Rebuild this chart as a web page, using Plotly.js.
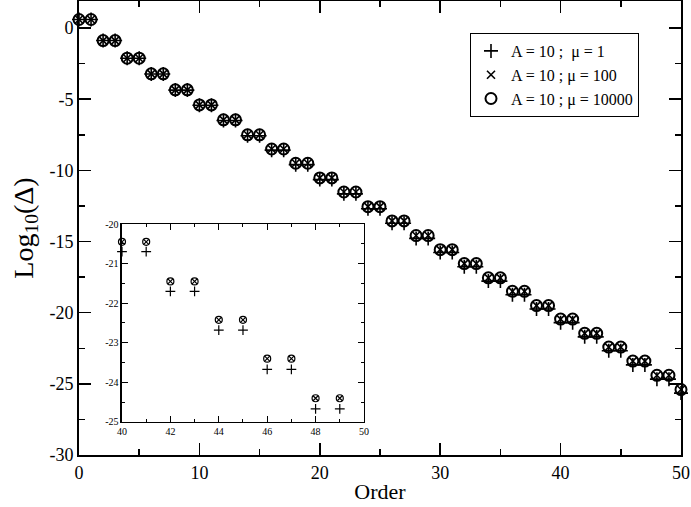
<!DOCTYPE html>
<html>
<head>
<meta charset="utf-8">
<script src="https://cdn.plot.ly/plotly-3.0.1.min.js"></script>
<style>html,body{margin:0;padding:0;background:#fff;}#chart{width:691px;height:507px;}</style>
</head>
<body>
<div id="chart"></div>
<script>
// Order
var order = [0,1,2,3,4,5,6,7,8,9,10,11,12,13,14,15,16,17,18,19,20,21,22,23,24,25,26,27,28,29,30,31,32,33,34,35,36,37,38,39,40,41,42,43,44,45,46,47,48,49,50];
// A = 10 ; mu = 1
var mu1 = [0.6,0.6,-0.88,-0.88,-2.12,-2.12,-3.23,-3.23,-4.36,-4.36,-5.43,-5.43,-6.5,-6.5,-7.57,-7.57,-8.58,-8.58,-9.6,-9.6,-10.65,-10.65,-11.65,-11.65,-12.7,-12.7,-13.72,-13.72,-14.78,-14.78,-15.77,-15.77,-16.77,-16.77,-17.78,-17.78,-18.74,-18.74,-19.74,-19.74,-20.7,-20.7,-21.7,-21.7,-22.68,-22.68,-23.67,-23.67,-24.67,-24.67,-25.65];
// A = 10 ; mu = 100
var mu100 = [0.6,0.6,-0.88,-0.88,-2.12,-2.12,-3.22,-3.22,-4.34,-4.34,-5.4,-5.4,-6.45,-6.45,-7.5,-7.5,-8.5,-8.5,-9.5,-9.5,-10.53,-10.53,-11.52,-11.52,-12.55,-12.55,-13.55,-13.55,-14.58,-14.58,-15.57,-15.57,-16.55,-16.55,-17.55,-17.55,-18.5,-18.5,-19.5,-19.5,-20.45,-20.45,-21.45,-21.45,-22.42,-22.42,-23.4,-23.4,-24.4,-24.4,-25.4];
// A = 10 ; mu = 10000
var mu10000 = [0.6,0.6,-0.88,-0.88,-2.12,-2.12,-3.22,-3.22,-4.34,-4.34,-5.4,-5.4,-6.45,-6.45,-7.5,-7.5,-8.5,-8.5,-9.5,-9.5,-10.53,-10.53,-11.52,-11.52,-12.55,-12.55,-13.55,-13.55,-14.58,-14.58,-15.57,-15.57,-16.55,-16.55,-17.55,-17.55,-18.5,-18.5,-19.5,-19.5,-20.45,-20.45,-21.45,-21.45,-22.42,-22.42,-23.4,-23.4,-24.4,-24.4,-25.4];
var names = ["A = 10 ;  \u03bc = 1", "A = 10 ; \u03bc = 100", "A = 10 ; \u03bc = 10000"];
// tick labels
var xTicks = [0, 10, 20, 30, 40, 50];
var xTickText = ["0", "10", "20", "30", "40", "50"];
var yTicks = [0, -5, -10, -15, -20, -25, -30];
var yTickText = ["0", "-5", "-10", "-15", "-20", "-25", "-30"];
var x2Ticks = [40, 42, 44, 46, 48, 50];
var x2TickText = ["40", "42", "44", "46", "48", "50"];
var y2Ticks = [-20, -21, -22, -23, -24, -25];
var y2TickText = ["-20", "-21", "-22", "-23", "-24", "-25"];
var insetStart = 40, insetEnd = 49;

var series = [mu1, mu100, mu10000];
var symbols = ['cross-thin-open', 'x-thin-open', 'circle-open'];
var mainSizes = [10, 8, 11];
var mainWidths = [1.6, 1.6, 2];
var insetSizes = [7, 5, 7];
var insetIdx = [];
for (var i = 0; i < order.length; i++) if (order[i] >= insetStart && order[i] <= insetEnd) insetIdx.push(i);

var traces = [];
series.forEach(function (s, k) {
  traces.push({
    x: order, y: s, name: names[k], mode: 'markers', type: 'scatter', cliponaxis: false,
    marker: {symbol: symbols[k], size: mainSizes[k], color: 'black', line: {color: 'black', width: mainWidths[k]}},
    xaxis: 'x', yaxis: 'y'
  });
});
series.forEach(function (s, k) {
  traces.push({
    x: insetIdx.map(function (i) { return order[i]; }),
    y: insetIdx.map(function (i) { return s[i]; }),
    name: names[k], mode: 'markers', type: 'scatter', showlegend: false, cliponaxis: false,
    marker: {symbol: symbols[k], size: insetSizes[k], color: 'black', line: {color: 'black', width: 1.2}},
    xaxis: 'x2', yaxis: 'y2'
  });
});

var serif = 'Liberation Serif';
var layout = {
  width: 691, height: 507,
  margin: {l: 79, r: 10, t: 1, b: 52},
  paper_bgcolor: 'white', plot_bgcolor: 'white',
  font: {family: serif, color: 'black'},
  showlegend: true,
  legend: {
    x: 0.6495, y: 0.9295, xanchor: 'left', yanchor: 'top',
    bordercolor: 'black', borderwidth: 1, bgcolor: 'white',
    font: {family: serif, size: 16, color: 'black'},
    tracegroupgap: 0, itemsizing: 'trace'
  },
  xaxis: {
    range: [0, 50], showgrid: false, zeroline: false,
    showline: true, linecolor: 'black', linewidth: 2, mirror: 'allticks',
    ticks: 'inside', ticklen: 12, tickwidth: 1.5, tickcolor: 'black',
    tickmode: 'array', tickvals: xTicks, ticktext: xTickText,
    minor: {dtick: 5, tick0: 0, ticklen: 6, ticks: 'inside', tickcolor: 'black', tickwidth: 1.5},
    tickfont: {family: serif, size: 18, color: 'black'},
    title: {text: 'Order', font: {family: serif, size: 22, color: 'black'}, standoff: 2}
  },
  yaxis: {
    range: [-30, 1.9], showgrid: false, zeroline: false,
    showline: true, linecolor: 'black', linewidth: 2, mirror: 'allticks',
    ticks: 'inside', ticklen: 12, tickwidth: 1.5, tickcolor: 'black',
    tickmode: 'array', tickvals: yTicks, ticktext: yTickText,
    minor: {dtick: 2.5, tick0: 0, ticklen: 6, ticks: 'inside', tickcolor: 'black', tickwidth: 1.5},
    tickfont: {family: serif, size: 18, color: 'black'},
    title: {text: 'Log<sub>10</sub>(\u0394)', font: {family: serif, size: 28, color: 'black'}, standoff: 8}
  },
  xaxis2: {
    domain: [0.0714, 0.4734], anchor: 'y2', range: [40, 50],
    showgrid: false, zeroline: false,
    showline: true, linecolor: 'black', linewidth: 1.5, mirror: 'allticks',
    ticks: 'inside', ticklen: 6, tickwidth: 1, tickcolor: 'black',
    tickmode: 'array', tickvals: x2Ticks, ticktext: x2TickText,
    minor: {dtick: 1, tick0: 40, ticklen: 3, ticks: 'inside', tickcolor: 'black', tickwidth: 1},
    tickfont: {family: serif, size: 10, color: 'black'}
  },
  yaxis2: {
    domain: [0.0727, 0.5088], anchor: 'x2', range: [-25, -20],
    showgrid: false, zeroline: false,
    showline: true, linecolor: 'black', linewidth: 1.5, mirror: 'allticks',
    ticks: 'inside', ticklen: 6, tickwidth: 1, tickcolor: 'black',
    tickmode: 'array', tickvals: y2Ticks, ticktext: y2TickText,
    minor: {dtick: 0.5, tick0: -25, ticklen: 3, ticks: 'inside', tickcolor: 'black', tickwidth: 1},
    tickfont: {family: serif, size: 10, color: 'black'}
  }
};
Plotly.newPlot('chart', traces, layout, {displayModeBar: false, staticPlot: true});
</script>
</body>
</html>
